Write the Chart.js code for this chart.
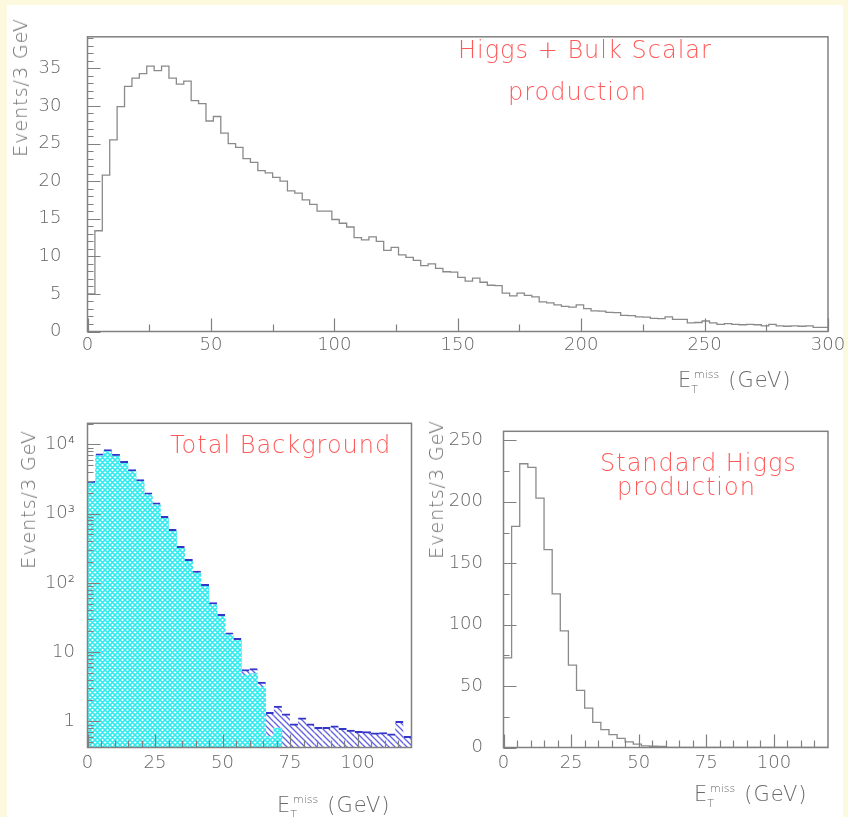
<!DOCTYPE html>
<html lang="en">
<head>
<meta charset="UTF-8">
<title>Missing transverse energy distributions</title>
<script src="https://cdn.jsdelivr.net/npm/chart.js@4.4.1/dist/chart.umd.min.js"></script>
<style>
  body { margin: 0; width: 848px; height: 817px; background: #fdf9de; position: relative; overflow: hidden;
         font-family: 'DejaVu Sans', sans-serif; font-weight: 300; color: #6a6a6a; }
  .sheet { position: absolute; left: 7px; top: 5px; width: 836px; height: 812px; background: #fff; }
  canvas { position: absolute; }
  .red { position: absolute; white-space: nowrap; color: #ff5a5a; font-size: 24px; line-height: 24px; letter-spacing: 1px; }
  .ytitle { position: absolute; writing-mode: vertical-rl; transform: rotate(180deg); font-size: 19px;
            line-height: 20px; letter-spacing: 1px; white-space: nowrap; }
  .xtitle { position: absolute; font-size: 21px; line-height: 21px; white-space: nowrap; }
  .xtitle .t { font-size: 11px; position: relative; top: 6px; }
  .xtitle .m { font-size: 11px; position: relative; top: -9px; margin-left: -4px; }
  .xtitle .g { margin-left: 9px; letter-spacing: 1px; }
</style>
</head>
<body>
<div class="sheet"></div>

<canvas id="bulk" width="848" height="400" style="left:0;top:0"></canvas>
<canvas id="background" width="424" height="417" style="left:0;top:400px"></canvas>
<canvas id="higgs" width="424" height="417" style="left:424px;top:400px"></canvas>

<div class="red" style="left:458px;top:38px">Higgs + Bulk Scalar</div>
<div class="red" style="left:508px;top:80px">production</div>
<div class="red" style="left:170px;top:433px">Total Background</div>
<div class="red" style="left:600px;top:451px">Standard Higgs</div>
<div class="red" style="left:617px;top:475px">production</div>

<div class="ytitle" style="left:10px;top:18px">Events/3 GeV</div>
<div class="ytitle" style="left:18px;top:430px">Events/3 GeV</div>
<div class="ytitle" style="left:426px;top:420px">Events/3 GeV</div>

<div class="xtitle" style="left:678px;top:370px">E<span class="t">T</span><span class="m">miss</span><span class="g">(GeV)</span></div>
<div class="xtitle" style="left:277px;top:795px">E<span class="t">T</span><span class="m">miss</span><span class="g">(GeV)</span></div>
<div class="xtitle" style="left:694px;top:784px">E<span class="t">T</span><span class="m">miss</span><span class="g">(GeV)</span></div>

<script>
const BIN = 3; // GeV per bin

// top: Higgs + bulk scalar, 100 bins from 0 to 300 GeV
const bulkCounts = [
  5.0, 13.4, 20.8, 25.5, 29.9, 32.6, 33.7, 34.3, 35.3, 34.7,
  35.3, 33.7, 32.9, 33.3, 30.7, 30.3, 28.0, 28.6, 26.4, 25.0,
  24.5, 23.0, 22.5, 21.4, 21.1, 20.5, 20.0, 18.7, 18.4, 17.5,
  16.9, 16.0, 16.0, 14.9, 14.4, 13.9, 12.5, 12.2, 12.6, 12.0,
  10.8, 11.2, 10.2, 9.85, 9.45, 8.75, 9.0, 8.4, 7.95, 7.9,
  7.2, 6.7, 7.1, 6.55, 6.15, 6.1, 5.1, 4.75, 5.1, 4.8,
  4.6, 3.95, 3.8, 3.55, 3.35, 3.25, 3.55, 3.05, 2.75, 2.7,
  2.55, 2.5, 2.15, 2.1, 1.95, 1.9, 1.75, 1.7, 1.95, 1.6,
  1.6, 1.15, 1.2, 1.4, 1.15, 0.95, 1.05, 0.95, 0.9, 0.95,
  0.9, 0.75, 0.95, 0.75, 0.7, 0.75, 0.7, 0.75, 0.55, 0.55
];
const bulkXTicks = [0, 50, 100, 150, 200, 250, 300];
const bulkYTicks = [0, 5, 10, 15, 20, 25, 30, 35];

// bottom left: total background (blue) and its cyan component, 40 bins 0-120 GeV
const bgTotal = [
  2935, 7300, 8400, 7200, 5700, 4330, 3100, 1990, 1430, 916,
  595, 338, 218, 148, 95, 52, 35, 19, 15.8, 5.6,
  5.8, 3.7, 1.35, 1.66, 1.28, 0.92, 1.12, 0.92, 0.82, 0.82,
  0.86, 0.79, 0.75, 0.72, 0.71, 0.68, 0.69, 0.66, 1.0, 0.61
];
const bgCyan = [
  2750, 6850, 7850, 6750, 5330, 4050, 2900, 1860, 1340, 857,
  557, 316, 204, 138, 89, 48.6, 32.7, 17.8, 14.8, 4.66,
  4.9, 3.15, 0.6, 0.8, null, null, null, null, null, null,
  null, null, null, null, null, null, null, null, null, null
];
const bgXTicks = [0, 25, 50, 75, 100];
const bgYTicks = [1, 10, 100, 1000, 10000];
const bgYLabels = ['1', '10', '10²', '10³', '10⁴'];

// bottom right: standard Higgs, 40 bins 0-120 GeV
const smCounts = [
  73, 180, 231, 228, 203, 161, 125, 95, 67, 46.5,
  32, 20.5, 14.5, 10.5, 7.5, 4.5, 2.8, 1.4, 1.0, 0.8,
  0, 0, 0, 0, 0, 0, 0, 0, 0, 0,
  0, 0, 0, 0, 0, 0, 0, 0, 0, 0
];
const smXTicks = [0, 25, 50, 75, 100];
const smYTicks = [0, 50, 100, 150, 200, 250];

Chart.defaults.font.family = "'DejaVu Sans', sans-serif";
Chart.defaults.color = '#666';
const tickFont = { size: 18, weight: '300' };

function range(a, b, step) {
  const out = [];
  for (let v = a; v <= b + 1e-9; v += step) out.push(+v.toFixed(6));
  return out;
}
const notIn = list => v => !list.includes(v);

// outline histogram points for a stepped line
function steps(counts) {
  const pts = counts.map((v, i) => ({ x: i * BIN, y: v }));
  pts.push({ x: counts.length * BIN, y: counts[counts.length - 1] });
  return pts;
}
const centres = counts => counts.map((v, i) => ({ x: i * BIN + BIN / 2, y: v }));

// frame box plus inward tick marks, PAW style
function frame(spec) {
  return {
    id: 'frame',
    afterDatasetsDraw(chart) {
      const { ctx, chartArea: a } = chart;
      const x = chart.scales.x, y = chart.scales.y;
      ctx.save();
      ctx.strokeStyle = '#808080';
      ctx.lineWidth = 1.2;
      ctx.beginPath();
      const xt = (vals, len) => vals.forEach(v => {
        const p = Math.round(x.getPixelForValue(v)) + 0.5;
        ctx.moveTo(p, a.bottom); ctx.lineTo(p, a.bottom - len);
      });
      const yt = (vals, len) => vals.forEach(v => {
        if (v < y.min || v > y.max) return;
        const p = Math.round(y.getPixelForValue(v)) + 0.5;
        ctx.moveTo(a.left, p); ctx.lineTo(a.left + len, p);
      });
      xt(spec.xMajor, 13); xt(spec.xMinor, 7);
      yt(spec.yMajor, 13); yt(spec.yMinor, 6);
      ctx.stroke();
      ctx.lineWidth = 1.5;
      ctx.strokeRect(a.left, a.top, a.right - a.left, a.bottom - a.top);
      ctx.restore();
    }
  };
}

function xAxis(max, ticks, height, pad) {
  return {
    type: 'linear', min: 0, max: max, offset: false,
    grid: { display: false, drawTicks: false, offset: false }, border: { display: false },
    afterBuildTicks: s => { s.ticks = ticks.map(v => ({ value: v })); },
    afterFit: s => { s.height = height; },
    ticks: { autoSkip: false, maxRotation: 0, padding: pad, font: tickFont, callback: v => String(v) }
  };
}
function yAxis(min, max, ticks, width, pad, labels, type) {
  return {
    type: type || 'linear', min: min, max: max,
    grid: { display: false, drawTicks: false }, border: { display: false },
    afterBuildTicks: s => { s.ticks = ticks.map(v => ({ value: v })); },
    afterFit: s => { s.width = width; },
    ticks: { autoSkip: false, padding: pad, font: tickFont,
             callback: v => labels ? labels[ticks.indexOf(v)] : String(v) }
  };
}

const common = {
  responsive: false, animation: false, events: [],
  plugins: { legend: { display: false }, tooltip: { enabled: false } }
};

// hatch patterns
function crossHatch() {
  const c = document.createElement('canvas');
  c.width = c.height = 5;
  const g = c.getContext('2d');
  g.fillStyle = '#fff'; g.fillRect(0, 0, 5, 5);
  g.strokeStyle = '#30eaee'; g.lineWidth = 1.6;
  g.beginPath();
  for (let k = -5; k <= 5; k += 5) {
    g.moveTo(-1, -1 + k); g.lineTo(6, 6 + k);
    g.moveTo(-1, 6 + k); g.lineTo(6, -1 + k);
  }
  g.stroke();
  return g.createPattern(c, 'repeat');
}
function diagHatch() {
  const c = document.createElement('canvas');
  c.width = c.height = 6;
  const g = c.getContext('2d');
  g.fillStyle = '#fff'; g.fillRect(0, 0, 6, 6);
  g.strokeStyle = '#6060e4'; g.lineWidth = 1.3;
  g.beginPath();
  for (let k = -6; k <= 6; k += 6) { g.moveTo(-1, -1 + k); g.lineTo(7, 7 + k); }
  g.stroke();
  return g.createPattern(c, 'repeat');
}

new Chart(document.getElementById('bulk'), {
  type: 'line',
  data: { datasets: [{ data: steps(bulkCounts), stepped: true, borderColor: '#8a8a8a', borderWidth: 1.3, pointRadius: 0, fill: false }] },
  options: Object.assign({}, common, {
    layout: { padding: { top: 6, right: 20, left: 0, bottom: 0 } },
    scales: { x: xAxis(300, bulkXTicks, 68.5, 2.7), y: yAxis(0, 39.2, bulkYTicks, 87.5, 26) }
  }),
  plugins: [frame({ xMajor: bulkXTicks, xMinor: range(25, 275, 50), yMajor: bulkYTicks, yMinor: range(1, 39, 1).filter(notIn(bulkYTicks)) })]
});

const logMinor = [];
[0.1, 1, 10, 100, 1000, 10000].forEach(d => { for (let k = 2; k <= 9; k++) logMinor.push(k * d); });

new Chart(document.getElementById('background'), {
  type: 'bar',
  data: { datasets: [
    { data: centres(bgCyan), backgroundColor: crossHatch(), borderWidth: 0, grouped: false, barPercentage: 1, categoryPercentage: 1 },
    { data: centres(bgTotal), backgroundColor: diagHatch(), borderColor: '#3434c8', borderWidth: { top: 2, left: 0, right: 0, bottom: 0 },
      borderSkipped: false, grouped: false, barPercentage: 1, categoryPercentage: 1 }
  ] },
  options: Object.assign({}, common, {
    layout: { padding: { top: 23, right: 12.5, left: 0, bottom: 0 } },
    scales: { x: xAxis(120, bgXTicks, 69.5, 5.2), y: yAxis(0.419, 20150, bgYTicks, 87.5, 12.5, bgYLabels, 'logarithmic') }
  }),
  plugins: [frame({ xMajor: bgXTicks, xMinor: range(5, 115, 5).filter(notIn(bgXTicks)), yMajor: bgYTicks, yMinor: logMinor })]
});

new Chart(document.getElementById('higgs'), {
  type: 'line',
  data: { datasets: [{ data: steps(smCounts), stepped: true, borderColor: '#8a8a8a', borderWidth: 1.3, pointRadius: 0, fill: false }] },
  options: Object.assign({}, common, {
    layout: { padding: { top: 23, right: 20, left: 0, bottom: 0 } },
    scales: { x: xAxis(120, smXTicks, 69.5, 5.2), y: yAxis(0, 257.4, smYTicks, 79.5, 20.5) }
  }),
  plugins: [frame({ xMajor: smXTicks, xMinor: range(5, 115, 5).filter(notIn(smXTicks)), yMajor: smYTicks, yMinor: range(25, 225, 50) })]
});
</script>
</body>
</html>
